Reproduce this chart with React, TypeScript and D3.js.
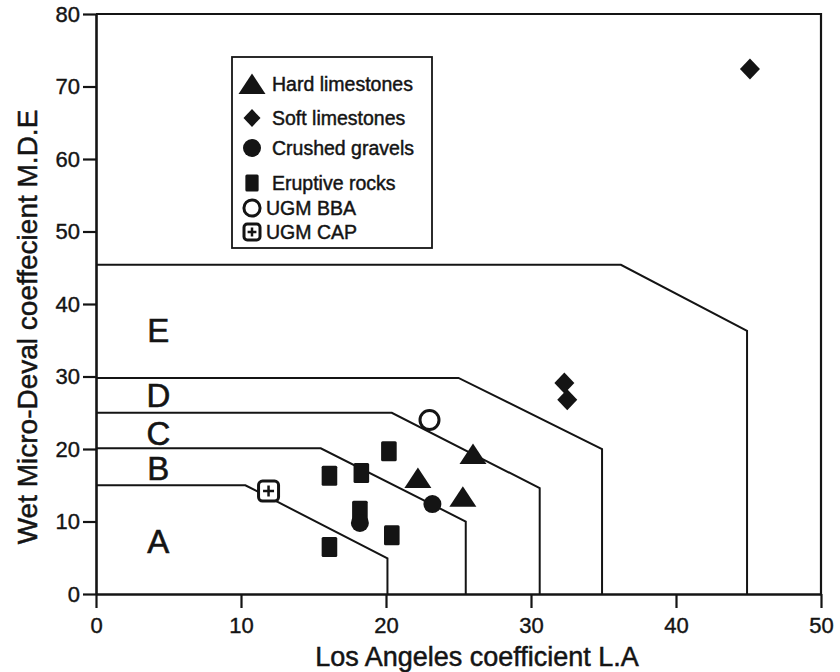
import { useEffect, useRef } from "react";
import * as d3 from "d3";

// page + plot box
const W = 840;
const H = 672;
const margin = { top: 14, right: 19, bottom: 78, left: 96 };
const ink = "#141414";
const font = "'Liberation Sans', Arial, Helvetica, sans-serif";

// axes
const xDomain = [0, 50];
const yDomain = [0, 80];
const xTicks = [0, 10, 20, 30, 40, 50];
const yTicks = [0, 10, 20, 30, 40, 50, 60, 70, 80];

// measured points [L.A, M.D.E]
const hardLimestones = [
  [22.2, 16.0],
  [26.0, 19.3],
  [25.3, 13.4],
];
const softLimestones = [
  [45.1, 72.4],
  [32.3, 29.1],
  [32.5, 26.8],
];
const crushedGravels = [
  [23.2, 12.4],
  [18.2, 9.8],
];
const eruptiveRocks = [
  [20.2, 19.7],
  [16.1, 16.3],
  [18.3, 16.7],
  [18.2, 11.5],
  [20.4, 8.1],
  [16.1, 6.5],
];
const ugmBBA = [[23.0, 24.0]];
const ugmCAP = [[11.9, 14.2]];

// class limits (polylines) and the class letters
const classNames = ["A", "B", "C", "D", "E"];
const classLimits = [
  [[0, 15], [10.3, 15], [20.1, 4.9], [20.1, 0]],
  [[0, 20.1], [15.5, 20.1], [25.5, 10], [25.5, 0]],
  [[0, 25], [20.4, 25], [30.6, 14.6], [30.6, 0]],
  [[0, 29.8], [25.0, 29.8], [34.9, 20], [34.9, 0]],
  [[0, 45.4], [36.2, 45.4], [44.9, 36.3], [44.9, 0]],
];
const classLabelY = [5.7, 15.7, 20.6, 25.8, 34.8];

const legendItems = [
  { kind: "triangle", label: "Hard limestones", k: 1 },
  { kind: "diamond", label: "Soft limestones", k: 0.85 },
  { kind: "dot", label: "Crushed gravels", k: 1 },
  { kind: "block", label: "Eruptive rocks", k: 0.85 },
  { kind: "open", label: "UGM BBA", k: 0.85 },
  { kind: "cap", label: "UGM CAP", k: 0.8 },
];
const legendRowY = [84, 118, 148, 183, 208, 232];

function marker(g, kind, cx, cy, k = 1) {
  if (kind === "triangle") {
    g.append("path")
      .attr("d", `M${cx},${cy - 10.5 * k}L${cx + 13.5 * k},${cy + 10 * k}L${cx - 13.5 * k},${cy + 10 * k}Z`)
      .attr("fill", ink);
  } else if (kind === "diamond") {
    g.append("path")
      .attr("d", `M${cx},${cy - 10.5 * k}L${cx + 10 * k},${cy}L${cx},${cy + 10.5 * k}L${cx - 10 * k},${cy}Z`)
      .attr("fill", ink);
  } else if (kind === "dot") {
    g.append("circle").attr("cx", cx).attr("cy", cy).attr("r", 9 * k).attr("fill", ink);
  } else if (kind === "block") {
    g.append("rect")
      .attr("x", cx - 7.8 * k)
      .attr("y", cy - 10 * k)
      .attr("width", 15.6 * k)
      .attr("height", 20 * k)
      .attr("rx", 1.5)
      .attr("fill", ink);
  } else if (kind === "open") {
    g.append("circle")
      .attr("cx", cx)
      .attr("cy", cy)
      .attr("r", 9.5 * k)
      .attr("fill", "white")
      .attr("stroke", ink)
      .attr("stroke-width", 3);
  } else if (kind === "cap") {
    g.append("rect")
      .attr("x", cx - 10 * k)
      .attr("y", cy - 10 * k)
      .attr("width", 20 * k)
      .attr("height", 20 * k)
      .attr("rx", 4 * k)
      .attr("fill", "white")
      .attr("stroke", ink)
      .attr("stroke-width", 3);
    g.append("path")
      .attr("d", `M${cx - 5.5 * k},${cy}H${cx + 5.5 * k}M${cx},${cy - 5.5 * k}V${cy + 5.5 * k}`)
      .attr("stroke", ink)
      .attr("stroke-width", 2.5);
  }
}

// slightly heavier text, like the scanned figure
function heavy(sel, size, w = 0.5) {
  sel.attr("fill", ink)
    .attr("stroke", ink)
    .attr("stroke-width", w)
    .style("font-family", font)
    .style("font-size", size);
}

export default function App() {
  const ref = useRef(null);

  useEffect(() => {
    const svg = d3.select(ref.current);
    svg.selectAll("*").remove();

    const x = d3.scaleLinear().domain(xDomain).range([margin.left, W - margin.right]);
    const y = d3.scaleLinear().domain(yDomain).range([H - margin.bottom, margin.top]);

    // frame (top + right)
    svg.append("path")
      .attr("d", `M${x(0)},${y(80)}H${x(50)}V${y(0)}`)
      .attr("fill", "none")
      .attr("stroke", ink)
      .attr("stroke-width", 2.2);

    // axes
    const xAxis = svg.append("g")
      .attr("transform", `translate(0,${y(0)})`)
      .call(d3.axisBottom(x).tickValues(xTicks).tickSize(14).tickSizeOuter(0).tickPadding(9));
    const yAxis = svg.append("g")
      .attr("transform", `translate(${x(0)},0)`)
      .call(d3.axisLeft(y).tickValues(yTicks).tickSize(13).tickSizeOuter(0).tickPadding(3));

    [xAxis, yAxis].forEach((a) => {
      a.select(".domain").attr("stroke", ink).attr("stroke-width", 2.6);
      a.selectAll(".tick line").attr("stroke", ink).attr("stroke-width", 2.2);
      heavy(a.selectAll(".tick text"), "22px", 0.4);
    });

    // class limits
    const line = d3.line().x((d) => x(d[0])).y((d) => y(d[1]));
    svg.append("g")
      .selectAll("path")
      .data(classLimits)
      .join("path")
      .attr("d", line)
      .attr("fill", "none")
      .attr("stroke", ink)
      .attr("stroke-width", 2);

    const letters = svg.append("g")
      .selectAll("text")
      .data(classNames)
      .join("text")
      .attr("x", x(4.3))
      .attr("y", (d, i) => y(classLabelY[i]))
      .attr("text-anchor", "middle")
      .text((d) => d);
    heavy(letters, "33px", 0.6);

    // legend
    const legend = svg.append("g");
    legend.append("rect")
      .attr("x", 232)
      .attr("y", 57)
      .attr("width", 200)
      .attr("height", 191)
      .attr("fill", "white")
      .attr("stroke", ink)
      .attr("stroke-width", 1.8);
    legendItems.forEach((item, i) => {
      marker(legend, item.kind, 252, legendRowY[i], item.k);
      const t = legend.append("text")
        .attr("x", i < 4 ? 272 : 266)
        .attr("y", legendRowY[i])
        .attr("dy", "0.35em")
        .text(item.label);
      heavy(t, "19.5px", 0.45);
    });

    // points
    const pts = svg.append("g");
    const groups = [
      ["block", eruptiveRocks],
      ["dot", crushedGravels],
      ["triangle", hardLimestones],
      ["diamond", softLimestones],
      ["open", ugmBBA],
      ["cap", ugmCAP],
    ];
    groups.forEach(([kind, data]) => {
      data.forEach((d) => marker(pts, kind, x(d[0]), y(d[1])));
    });

    // axis titles
    const xt = svg.append("text")
      .attr("x", 477)
      .attr("y", 666)
      .attr("text-anchor", "middle")
      .text("Los Angeles coefficient L.A");
    heavy(xt, "27px", 0.5);

    const yt = svg.append("text")
      .attr("transform", "translate(37,327) rotate(-90)")
      .attr("text-anchor", "middle")
      .text("Wet Micro-Deval coeffecient M.D.E");
    heavy(yt, "28px", 0.5);
  }, []);

  return (
    <svg
      ref={ref}
      width={W}
      height={H}
      style={{ position: "absolute", left: 0, top: 0, background: "white" }}
    />
  );
}
